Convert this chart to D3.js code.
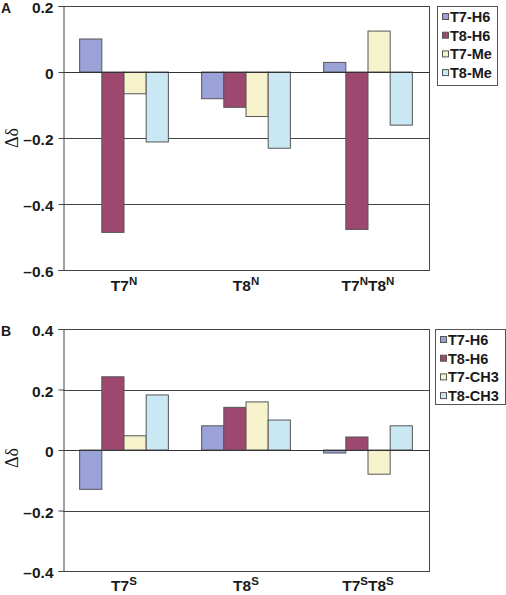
<!DOCTYPE html>
<html><head><meta charset="utf-8">
<script src="https://cdn.jsdelivr.net/npm/d3@7"></script>
<style>body{margin:0;background:#fff}svg{display:block}</style>
</head><body>
<svg id="c" width="506" height="595"></svg>
<script>
// ---- data ----
const categoriesA = [["T7","N"],["T8","N"],["T7","N","T8","N"]];
const seriesA = ["T7-H6","T8-H6","T7-Me","T8-Me"];
const valuesA = [
  [0.100, -0.486, -0.066, -0.212],
  [-0.081, -0.107, -0.135, -0.231],
  [0.029, -0.477, 0.124, -0.161]
];
const ticksA = [0.2, 0, -0.2, -0.4, -0.6];

const categoriesB = [["T7","S"],["T8","S"],["T7","S","T8","S"]];
const seriesB = ["T7-H6","T8-H6","T7-CH3","T8-CH3"];
const valuesB = [
  [-0.130, 0.242, 0.047, 0.182],
  [0.080, 0.141, 0.159, 0.099],
  [-0.010, 0.043, -0.080, 0.080]
];
const ticksB = [0.4, 0.2, 0, -0.2, -0.4];

const colors = ["#9aa2d8","#9e4870","#f6f3cc","#c9e8f3"];

const svg = d3.select("#c");
const fmt = v => v === 0 ? "0" : (v < 0 ? "\u2013" + d3.format(".1f")(-v) : d3.format(".1f")(v));

function panel(o) {
  const g = svg.append("g");
  const y = d3.scaleLinear().domain(o.domain).range([o.bottom, o.top]);
  const keys = o.categories.map((c, i) => "c" + i);
  const x = d3.scaleBand().domain(keys).range([o.left, o.right])
    .paddingInner(0.2727).paddingOuter(0.13636);
  const xs = d3.scaleBand().domain(o.series).range([0, x.bandwidth()]);

  // gridlines
  g.selectAll("line.grid").data(o.ticks).enter().append("line")
    .attr("x1", o.left).attr("x2", o.right)
    .attr("y1", d => Math.round(y(d)) + 0.5).attr("y2", d => Math.round(y(d)) + 0.5)
    .attr("stroke", "#444").attr("stroke-width", 1);
  // right border
  g.append("line").attr("x1", o.right + 0.5).attr("x2", o.right + 0.5)
    .attr("y1", y(o.domain[1])).attr("y2", y(o.domain[0]) + 1)
    .attr("stroke", "#444");

  // bars
  o.values.forEach((row, ci) => {
    row.forEach((v, si) => {
      const y0 = y(0), y1 = y(v);
      g.append("rect")
        .attr("x", x(keys[ci]) + xs(o.series[si]))
        .attr("y", Math.min(y0, y1))
        .attr("width", xs.bandwidth())
        .attr("height", Math.abs(y1 - y0))
        .attr("fill", colors[si])
        .attr("stroke", "#555").attr("stroke-width", 1);
    });
  });
  // zero line on top
  g.append("line").attr("x1", o.left).attr("x2", o.right)
    .attr("y1", Math.round(y(0)) + 0.5).attr("y2", Math.round(y(0)) + 0.5)
    .attr("stroke", "#333");

  // y axis
  const ax = g.append("g").attr("transform", `translate(${o.left + 0.5},0)`)
    .call(d3.axisLeft(y).tickValues(o.ticks).tickFormat(fmt).tickSize(5).tickPadding(5));
  ax.select(".domain").attr("stroke", "#444");
  ax.selectAll(".tick line").attr("stroke", "#444");
  ax.selectAll(".tick text").attr("font-family", "Liberation Sans, Arial, sans-serif")
    .attr("font-weight", "bold").attr("font-size", 15.5).attr("fill", "#1a1a1a")
    .attr("dy", "0.42em");

  // y label
  g.append("text").attr("transform", `translate(${o.ylabX},${o.ylabY}) rotate(-90)`)
    .attr("text-anchor", "middle").attr("dominant-baseline", "central")
    .attr("font-family", "Liberation Serif, serif").attr("font-size", 18)
    .attr("fill", "#1a1a1a").text("\u0394\u03b4");

  // panel letter
  g.append("text").attr("x", 1).attr("y", o.top + 6.5)
    .attr("font-family", "Liberation Sans, Arial, sans-serif").attr("font-weight", "bold")
    .attr("font-size", 14).attr("fill", "#1a1a1a").text(o.letter);

  // category labels
  o.categories.forEach((parts, ci) => {
    const t = g.append("text").attr("x", x(keys[ci]) + x.bandwidth() / 2).attr("y", o.catY)
      .attr("text-anchor", "middle")
      .attr("font-family", "Liberation Sans, Arial, sans-serif").attr("font-weight", "bold")
      .attr("font-size", 15.5).attr("fill", "#1a1a1a");
    parts.forEach((p, pi) => {
      const sup = pi % 2 === 1;
      const ts = t.append("tspan").text(p);
      if (sup) ts.attr("font-size", 11.5).attr("dy", -6);
      else if (pi > 0) ts.attr("dy", 6);
    });
  });

  // legend
  const lg = g.append("g");
  lg.append("rect").attr("x", o.legX + 0.5).attr("y", o.legY + 0.5)
    .attr("width", o.legW).attr("height", o.legH)
    .attr("fill", "#fff").attr("stroke", "#555");
  o.series.forEach((s, i) => {
    const cy = o.legY + 11 + i * 18.7;
    lg.append("rect").attr("x", o.legX + 5.5).attr("y", cy - 3.5).attr("width", 6).attr("height", 6)
      .attr("fill", colors[i]).attr("stroke", "#555");
    lg.append("text").attr("x", o.legX + 13).attr("y", cy).attr("dominant-baseline", "central")
      .attr("font-family", "Liberation Sans, Arial, sans-serif").attr("font-weight", "bold")
      .attr("font-size", 14.5).attr("fill", "#1a1a1a").text(s);
  });
}

panel({letter:"A", categories:categoriesA, series:seriesA, values:valuesA, ticks:ticksA,
  domain:[-0.6, 0.2], top:6, bottom:270, left:63, right:429, catY:291, ylabX:12, ylabY:138,
  legX:437, legY:6, legW:60, legH:79});
panel({letter:"B", categories:categoriesB, series:seriesB, values:valuesB, ticks:ticksB,
  domain:[-0.4, 0.4], top:329, bottom:571, left:63, right:429, catY:591, ylabX:12, ylabY:458,
  legX:435, legY:329, legW:70, legH:75});
</script>
</body></html>
